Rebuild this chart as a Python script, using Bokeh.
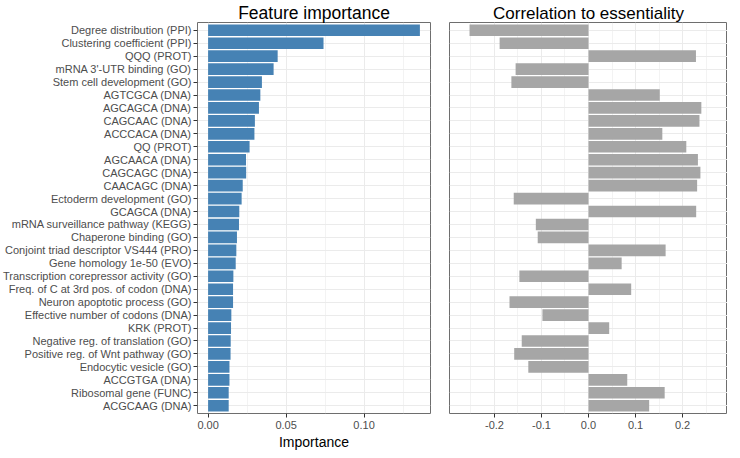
from bokeh.plotting import figure
from bokeh.models import FactorRange, FixedTicker, PrintfTickFormatter, Range1d
from bokeh.layouts import row
from bokeh.embed import file_html
from bokeh.resources import INLINE

features = [
    "Degree distribution (PPI)",
    "Clustering coefficient (PPI)",
    "QQQ (PROT)",
    "mRNA 3'-UTR binding (GO)",
    "Stem cell development (GO)",
    "AGTCGCA (DNA)",
    "AGCAGCA (DNA)",
    "CAGCAAC (DNA)",
    "ACCCACA (DNA)",
    "QQ (PROT)",
    "AGCAACA (DNA)",
    "CAGCAGC (DNA)",
    "CAACAGC (DNA)",
    "Ectoderm development (GO)",
    "GCAGCA (DNA)",
    "mRNA surveillance pathway (KEGG)",
    "Chaperone binding (GO)",
    "Conjoint triad descriptor VS444 (PRO)",
    "Gene homology 1e-50 (EVO)",
    "Transcription corepressor activity (GO)",
    "Freq. of C at 3rd pos. of codon (DNA)",
    "Neuron apoptotic process (GO)",
    "Effective number of codons (DNA)",
    "KRK (PROT)",
    "Negative reg. of translation (GO)",
    "Positive reg. of Wnt pathway (GO)",
    "Endocytic vesicle (GO)",
    "ACCGTGA (DNA)",
    "Ribosomal gene (FUNC)",
    "ACGCAAG (DNA)",
]

importance = [
    0.1358, 0.0740, 0.0446, 0.0420, 0.0345, 0.0335, 0.0326, 0.0300, 0.0297, 0.0266,
    0.0243, 0.0244, 0.0222, 0.0215, 0.0200, 0.0198, 0.0185, 0.0181, 0.0177, 0.0162,
    0.0160, 0.0160, 0.0149, 0.0147, 0.0145, 0.0144, 0.0137, 0.0137, 0.0132, 0.0132,
]

correlation = [
    -0.253, -0.189, 0.2285, -0.155, -0.164, 0.1516, 0.240, 0.236, 0.157, 0.208,
    0.2327, 0.238, 0.231, -0.159, 0.229, -0.112, -0.108, 0.164, 0.0705, -0.147,
    0.0908, -0.168, -0.098, 0.044, -0.142, -0.158, -0.128, 0.0824, 0.162, 0.129,
]

titles = ["Feature importance", "Correlation to essentiality"]
imp_ticks = [0.0, 0.05, 0.10]
imp_minor = [0.025, 0.075, 0.125]
cor_ticks = [-0.2, -0.1, 0.0, 0.1, 0.2]
cor_minor = [-0.25, -0.15, -0.05, 0.05, 0.15, 0.25]

FONT = "Liberation Sans"
GRID = "#EBEBEB"
BORDER = "#6E6E6E"
TICKLAB = "#4D4D4D"
FRAME_H = 391

yr = FactorRange(factors=list(reversed(features)), range_padding=0.1,
                 range_padding_units="absolute")


def style(p, ticks, minor, fmt, size):
    p.title.text_font = FONT
    p.title.text_font_size = size
    p.title.text_font_style = "normal"
    p.title.text_color = "black"
    p.title.align = "center"
    p.title.standoff = 0
    p.title.text_line_height = 0.8
    p.outline_line_color = BORDER
    p.outline_line_width = 1
    p.background_fill_color = "white"
    p.xgrid.ticker = FixedTicker(ticks=ticks, minor_ticks=minor)
    p.xgrid.grid_line_color = GRID
    p.xgrid.grid_line_width = 1
    p.xgrid.minor_grid_line_color = GRID
    p.xgrid.minor_grid_line_width = 0.6
    p.ygrid.grid_line_color = GRID
    p.ygrid.grid_line_width = 1
    p.xaxis.ticker = FixedTicker(ticks=ticks)
    p.xaxis.formatter = PrintfTickFormatter(format=fmt)
    p.xaxis.axis_line_color = None
    p.xaxis.major_tick_line_color = "#333333"
    p.xaxis.major_tick_out = 4
    p.xaxis.major_tick_in = 0
    p.xaxis.minor_tick_line_color = None
    p.xaxis.major_label_text_font = FONT
    p.xaxis.major_label_text_font_size = "11px"
    p.xaxis.major_label_text_color = TICKLAB
    p.xaxis.major_label_standoff = 3


p1 = figure(
    title=titles[0],
    y_range=yr,
    x_range=Range1d(-0.0068, 0.1426),
    frame_width=233, frame_height=FRAME_H,
    min_border_left=196, min_border_right=9, min_border_top=17, min_border_bottom=34,
    output_backend="svg", toolbar_location=None,
)
p1.hbar(y=features, right=importance, left=0, height=0.9, fill_color="#4682B4",
        line_color=None)
style(p1, imp_ticks, imp_minor, "%.2f", "17.5px")
p1.xaxis.axis_label = "Importance"
p1.xaxis.axis_label_text_font = FONT
p1.xaxis.axis_label_text_font_size = "14px"
p1.xaxis.axis_label_text_font_style = "normal"
p1.xaxis.axis_label_text_color = "black"
p1.xaxis.axis_label_standoff = 2
p1.yaxis.axis_line_color = None
p1.yaxis.major_tick_line_color = "#333333"
p1.yaxis.major_tick_out = 4
p1.yaxis.major_tick_in = 0
p1.yaxis.major_label_text_font = FONT
p1.yaxis.major_label_text_font_size = "11px"
p1.yaxis.major_label_text_color = TICKLAB
p1.yaxis.major_label_standoff = 2

p2 = figure(
    title=titles[1],
    y_range=yr,
    x_range=Range1d(-0.2956, 0.2956),
    frame_width=278, frame_height=FRAME_H,
    min_border_left=10, min_border_right=0, min_border_top=17, min_border_bottom=34,
    output_backend="svg", toolbar_location=None,
)
p2.hbar(y=features, right=correlation, left=0, height=0.9, fill_color="#A6A6A6",
        line_color=None)
style(p2, cor_ticks, cor_minor, "%.1f", "17px")
p2.yaxis.visible = False

layout = row(p1, p2)
open("out.html", "w").write(file_html(layout, INLINE))
